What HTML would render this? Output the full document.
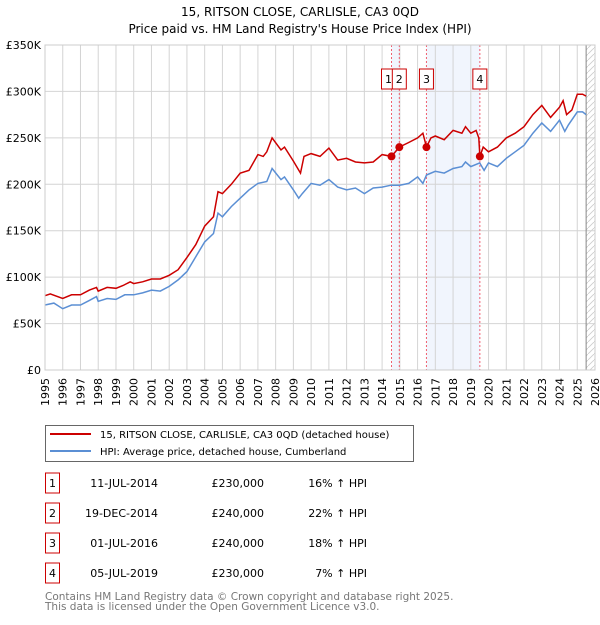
<!DOCTYPE html>
<html><head><meta charset="utf-8"><style>
body{margin:0;background:#fff;font-family:"Liberation Sans","DejaVu Sans",sans-serif;}
svg text{font-family:"DejaVu Sans","Liberation Sans",sans-serif;}
</style></head><body>
<svg id="c" width="600" height="620" xmlns="http://www.w3.org/2000/svg">
<text x="300" y="16" text-anchor="middle" font-size="12">15, RITSON CLOSE, CARLISLE, CA3 0QD</text>
<text x="300" y="33" text-anchor="middle" font-size="12">Price paid vs. HM Land Registry's House Price Index (HPI)</text>
<g id="plot"></g>
<g>
<rect x="45.5" y="425.5" width="368" height="36" fill="#fff" stroke="#666"/>
<line x1="50" y1="434" x2="91" y2="434" stroke="#cc0000" stroke-width="2"/>
<text x="100" y="438" font-size="10">15, RITSON CLOSE, CARLISLE, CA3 0QD (detached house)</text>
<line x1="50" y1="451" x2="91" y2="451" stroke="#5b8fd4" stroke-width="2"/>
<text x="100" y="455" font-size="10">HPI: Average price, detached house, Cumberland</text>
</g>
<g id="tbl" font-size="10"></g>
<text x="45" y="600" font-size="10.5" fill="#777">Contains HM Land Registry data © Crown copyright and database right 2025.</text>
<text x="45" y="610" font-size="10.5" fill="#777">This data is licensed under the Open Government Licence v3.0.</text>
</svg>
<script>
const hpiYears=[1995,1995.5,1996,1996.5,1997,1997.5,1997.9,1998,1998.5,1999,1999.5,2000,2000.5,2001,2001.5,2002,2002.5,2003,2003.5,2004,2004.5,2004.75,2005,2005.5,2006,2006.5,2007,2007.5,2007.8,2008.3,2008.5,2009,2009.3,2009.5,2010,2010.5,2011,2011.5,2012,2012.5,2013,2013.5,2014,2014.5,2015,2015.5,2016,2016.3,2016.5,2017,2017.5,2018,2018.5,2018.7,2019,2019.5,2019.75,2020,2020.5,2021,2021.5,2022,2022.5,2023,2023.5,2024,2024.3,2024.5,2025,2025.3,2025.5];
const hpiValues=[70,72,66,70,70,75,79,74,77,76,81,81,83,86,85,90,97,106,122,138,147,169,165,176,185,194,201,203,217,205,208,194,185,190,201,199,205,197,194,196,190,196,197,199,199,201,208,201,210,214,212,217,219,224,219,223,215,223,219,228,235,242,255,266,257,269,257,264,278,278,275];
const priceYears=[1995,1995.3,1996,1996.5,1997,1997.5,1997.9,1998,1998.5,1999,1999.4,1999.8,2000,2000.5,2001,2001.5,2002,2002.5,2003,2003.5,2004,2004.5,2004.75,2005,2005.5,2006,2006.5,2007,2007.3,2007.5,2007.8,2008.3,2008.5,2009,2009.4,2009.6,2010,2010.5,2011,2011.5,2012,2012.5,2013,2013.5,2014,2014.53,2014.97,2015.5,2016,2016.3,2016.5,2016.75,2017,2017.5,2018,2018.5,2018.7,2019,2019.3,2019.45,2019.51,2019.7,2020,2020.5,2021,2021.5,2022,2022.5,2023,2023.5,2024,2024.2,2024.4,2024.7,2025,2025.3,2025.5];
const priceValues=[80,82,77,81,81,86,89,85,89,88,91,95,93,95,98,98,102,108,121,135,155,165,192,190,200,212,215,232,230,235,250,237,240,225,212,230,233,230,239,226,228,224,223,224,232,230,240,245,250,255,240,250,252,248,258,255,262,255,258,250,230,240,235,240,250,255,262,275,285,272,283,290,275,280,297,297,295];
const saleYears=[2014.53,2014.97,2016.5,2019.51];
const saleValues=[230,240,240,230];
const saleLabels=["1","2","3","4"];
const saleDates=["11-JUL-2014","19-DEC-2014","01-JUL-2016","05-JUL-2019"];
const salePrices=["£230,000","£240,000","£240,000","£230,000"];
const salePct=["16% ↑ HPI","22% ↑ HPI","18% ↑ HPI","7% ↑ HPI"];
const yTicks=[0,50,100,150,200,250,300,350];
const yTickLabels=["£0","£50K","£100K","£150K","£200K","£250K","£300K","£350K"];
const xTicks=[1995,1996,1997,1998,1999,2000,2001,2002,2003,2004,2005,2006,2007,2008,2009,2010,2011,2012,2013,2014,2015,2016,2017,2018,2019,2020,2021,2022,2023,2024,2025,2026];

const NS="http://www.w3.org/2000/svg";
const X0=45,X1=595,Y0=370,Y1=45;
const xs=y=>X0+(y-1995)/(2026-1995)*(X1-X0);
const ys=v=>Y0-v/350*(Y0-Y1);
const plot=document.getElementById('plot');
function mk(tag,attrs,parent){const e=document.createElementNS(NS,tag);for(const k in attrs)e.setAttribute(k,attrs[k]);(parent||plot).appendChild(e);return e;}

let s=mk('rect',{x:xs(saleYears[0]),y:Y1,width:xs(saleYears[1])-xs(saleYears[0]),height:Y0-Y1,fill:'#eef3fc',opacity:0.8});


s=mk('rect',{x:xs(saleYears[2]),y:Y1,width:xs(saleYears[3])-xs(saleYears[2]),height:Y0-Y1,fill:'#eef3fc',opacity:0.8});


const defs=mk('defs',{});
const pat=mk('pattern',{id:'h',width:6,height:6,patternUnits:'userSpaceOnUse'},defs);
mk('path',{d:'M0,6 L6,0',stroke:'#ccc','stroke-width':0.8},pat);
s=mk('rect',{x:xs(2025.5),y:Y1,width:X1-xs(2025.5),height:Y0-Y1,fill:'url(#h)'});


yTicks.forEach((v,i)=>{
 const l=mk('line',{x1:X0,x2:X1,y1:ys(v),y2:ys(v),stroke:'#d4d4d4','stroke-width':1});
 
 
 const t=mk('text',{x:X0-4,y:ys(v)+4,'text-anchor':'end','font-size':11});
 t.textContent=yTickLabels[i];
 
 
});
xTicks.forEach(y=>{
 const l=mk('line',{x1:xs(y),x2:xs(y),y1:Y1,y2:Y0,stroke:'#d4d4d4','stroke-width':1});
 
 
 const t=mk('text',{x:0,y:0,'font-size':11,'text-anchor':'end',transform:`translate(${xs(y)+4},378) rotate(-90)`});
 t.textContent=y;
 
 
});
s=mk('line',{x1:xs(2025.5),x2:xs(2025.5),y1:Y1,y2:Y0,stroke:'#888','stroke-width':1});


saleYears.forEach((y,i)=>{
 const l=mk('line',{x1:xs(y),x2:xs(y),y1:Y1,y2:Y0,stroke:'#f06070','stroke-width':1,'stroke-dasharray':'2,2'});
 
 
});
function path(xa,va){return xa.map((y,i)=>(i?'L':'M')+xs(y).toFixed(1)+','+ys(va[i]).toFixed(1)).join('');}
s=mk('path',{d:path(hpiYears,hpiValues),fill:'none',stroke:'#5b8fd4','stroke-width':1.5});


s=mk('path',{d:path(priceYears,priceValues),fill:'none',stroke:'#cc0000','stroke-width':1.5});


saleYears.forEach((y,i)=>{
 const c=mk('circle',{cx:xs(y),cy:ys(saleValues[i]),r:4,fill:'#cc0000'});
 
 
 const g=mk('g',{});
 
 
 mk('rect',{x:i===0?xs(y)-10:xs(y)-7,y:69,width:14,height:20,fill:'#fff',stroke:'#cc0000'},g);
 const t=mk('text',{x:(i===0?xs(y)-3:xs(y)),y:83,'text-anchor':'middle','font-size':11},g);
 t.textContent=saleLabels[i];
});
mk('rect',{x:X0,y:Y1,width:X1-X0,height:Y0-Y1,fill:'none',stroke:'#ccc'});

const tbl=document.getElementById('tbl');
saleLabels.forEach((lab,i)=>{
 const cy=483+i*30;
 const g=mk('g',{},tbl);
 
 
 mk('rect',{x:45.5,y:cy-10,width:14,height:20,fill:'#fff',stroke:'#cc0000'},g);
 let t=mk('text',{x:52.5,y:cy+4,'text-anchor':'middle','font-size':11},g);t.textContent=lab;
 t=mk('text',{x:158,y:cy+4,'text-anchor':'end','font-size':11},g);t.textContent=saleDates[i];
 t=mk('text',{x:264,y:cy+4,'text-anchor':'end','font-size':11},g);t.textContent=salePrices[i];
 t=mk('text',{x:367,y:cy+4,'text-anchor':'end','font-size':11},g);t.textContent=salePct[i];
});
</script>
</body></html>
